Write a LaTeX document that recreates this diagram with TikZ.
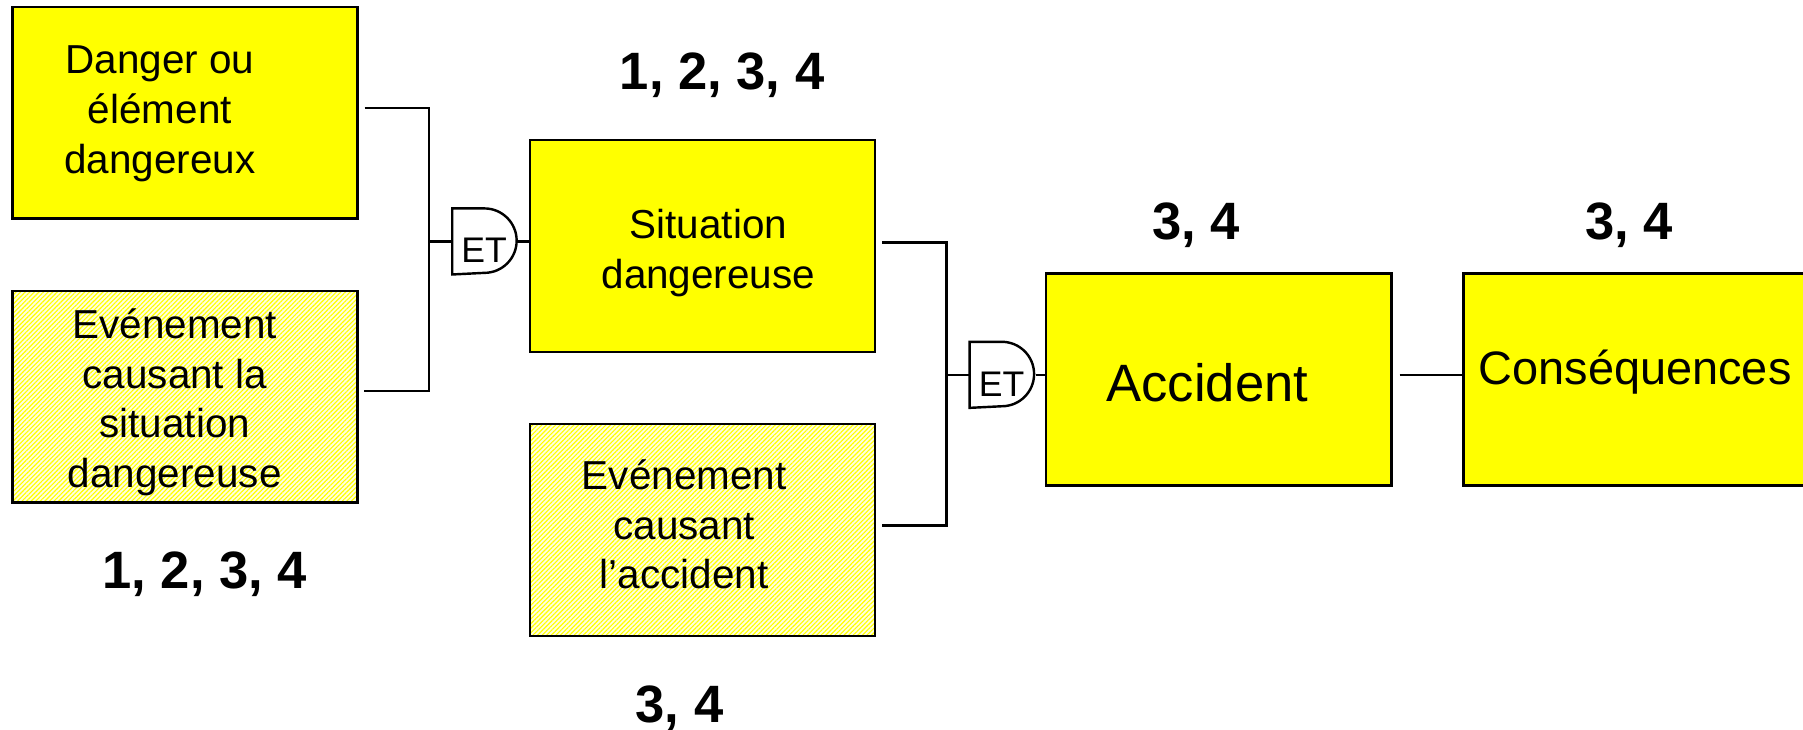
\documentclass[tikz,border=0pt]{standalone}
\usepackage{fontspec}
\setmainfont{Liberation Sans}
\usetikzlibrary{positioning, calc, patterns.meta}
\definecolor{jaune}{RGB}{255,255,0}
\definecolor{jaunepale}{RGB}{255,255,225}

\begin{document}
\begin{tikzpicture}[x=0.01cm, y=0.01cm,
  cadre/.style = {draw, line width=0.6pt, minimum width=3cm, minimum height=1.84cm, inner sep=0pt},
  boite/.style = {cadre, fill=jaune},
  cause/.style = {cadre, preaction={fill=jaunepale}, pattern={Lines[angle=45, distance=0.8pt, line width=0.28pt]}, pattern color=jaune},
  texte/.style = {align=center, font=\fontsize{10}{12.3}\selectfont},
  note/.style = {anchor=base, font=\fontsize{13}{15}\selectfont\bfseries},
  porte/.style = {minimum width=0.56cm, minimum height=0.56cm, inner sep=0pt},
  lien/.style = {line width=0.6pt}]
\useasboundingbox (0,0) rectangle (1568,634);
\clip (0,0) rectangle (1568,634);

% boites
\node[boite] (danger) at (161,536) {};
\node[cause] (evtsit) at (161,289) {};
\node[boite] (situation) at (611,420) {};
\node[cause] (evtacc) at (611,173) {};
\node[boite] (accident) at (1060,304) {};
\node[boite] (consequences) at (1423,304) {};

% textes des boites
\node[texte] (danger-t) at (139,535) {Danger ou\\élément\\dangereux};
\node[texte] (evtsit-t) at (152,284) {Evénement\\causant la\\situation\\dangereuse};
\node[texte] (situation-t) at (616,414) {Situation\\dangereuse};
\node[texte] (evtacc-t) at (595,178) {Evénement\\causant\\l’accident};
\node[font=\fontsize{13}{15}\selectfont] (accident-t) at (1050,301) {Accident};
\node[font=\fontsize{11.6}{14}\selectfont] (consequences-t) at (1422,310) {Conséquences};

% numeros
\node[note] (n1) at (628,556) {1, 2, 3, 4};
\node[note] (n2) at (178,122) {1, 2, 3, 4};
\node[note] (n3) at (1040,426) {3, 4};
\node[note] (n4) at (1417,426) {3, 4};
\node[note] (n5) at (591,6) {3, 4};

% portes ET
\foreach \nom/\x/\y in {et1/422/424, et2/872/308} {
  \node[porte] (\nom) at (\x,\y) {};
  \draw[lien] (\nom.north west) -- ++(0.28cm,0) arc[start angle=90, end angle=-90, radius=0.28cm] -- (\nom.south west) -- cycle;
  \node[font=\fontsize{8.8}{10}\selectfont] (\nom-t) at ($(\nom.center)+(-1,-8)$) {ET};
}

% liaisons
\coordinate (j1) at (373,424);
\coordinate (j2) at (823,308);
\draw[lien] ($(danger.east)+(5,4)$) -| (j1) |- ($(evtsit.east)+(5,5)$);
\draw[lien] (j1) -- (et1.west);
\draw[lien] (et1.east) -- (et1.east -| situation.west);
\draw[lien] ($(situation.east)+(5,3)$) -| (j2) |- ($(evtacc.east)+(5,4)$);
\draw[lien] (j2) -- (et2.west);
\draw[lien] (et2.east) -- (et2.east -| accident.west);
\draw[lien] ($(accident.east)+(6,4)$) -- ($(consequences.west)+(0,4)$);
\end{tikzpicture}
\end{document}
